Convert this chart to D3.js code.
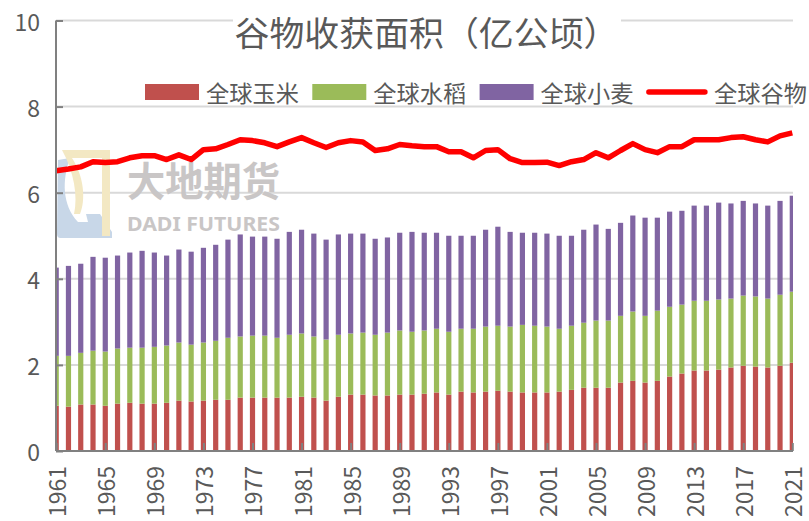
<!DOCTYPE html>
<html>
<head>
<meta charset="utf-8">
<script src="https://cdn.jsdelivr.net/npm/d3@7"></script>
<style>
  body { margin: 0; background: #fff; }
  svg { display: block; }
</style>
</head>
<body>
<svg id="chart" width="809" height="521"></svg>
<script>
// ---------------------------------------------------------------
// Data (亿公顷)
// ---------------------------------------------------------------
const years = d3.range(1961, 2022)

const corn = [
  1.05, 1.03, 1.08, 1.08, 1.05, 1.10, 1.12, 1.10, 1.10, 1.12,
  1.17, 1.15, 1.17, 1.19, 1.19, 1.24, 1.24, 1.24, 1.24, 1.24,
  1.26, 1.24, 1.17, 1.26, 1.31, 1.31, 1.29, 1.29, 1.31, 1.31,
  1.33, 1.36, 1.31, 1.38, 1.36, 1.38, 1.40, 1.38, 1.36, 1.36,
  1.36, 1.38, 1.42, 1.47, 1.47, 1.47, 1.59, 1.63, 1.59, 1.63,
  1.73, 1.80, 1.87, 1.87, 1.89, 1.94, 1.98, 1.96, 1.94, 1.98,
  2.05
]
const rice = [
  1.16, 1.18, 1.20, 1.25, 1.26, 1.28, 1.28, 1.30, 1.32, 1.33,
  1.35, 1.32, 1.35, 1.37, 1.44, 1.42, 1.44, 1.44, 1.39, 1.46,
  1.47, 1.42, 1.42, 1.44, 1.42, 1.44, 1.41, 1.46, 1.49, 1.46,
  1.47, 1.48, 1.46, 1.46, 1.48, 1.51, 1.51, 1.51, 1.57, 1.55,
  1.53, 1.46, 1.49, 1.51, 1.56, 1.56, 1.55, 1.61, 1.55, 1.63,
  1.62, 1.60, 1.62, 1.62, 1.63, 1.60, 1.63, 1.63, 1.60, 1.65,
  1.65
]
const wheat = [
  2.05, 2.09, 2.07, 2.18, 2.18, 2.16, 2.21, 2.25, 2.19, 2.09,
  2.16, 2.16, 2.20, 2.23, 2.28, 2.37, 2.30, 2.30, 2.30, 2.39,
  2.41, 2.39, 2.32, 2.33, 2.32, 2.30, 2.23, 2.21, 2.27, 2.32,
  2.27, 2.23, 2.23, 2.16, 2.16, 2.25, 2.30, 2.20, 2.14, 2.16,
  2.16, 2.16, 2.09, 2.16, 2.23, 2.13, 2.16, 2.23, 2.28, 2.16,
  2.21, 2.18, 2.21, 2.21, 2.25, 2.21, 2.20, 2.16, 2.16, 2.18,
  2.23
]
const cereals = [
  6.51, 6.55, 6.60, 6.72, 6.70, 6.72, 6.81, 6.86, 6.86, 6.77,
  6.88, 6.77, 7.00, 7.02, 7.12, 7.23, 7.21, 7.16, 7.07, 7.18,
  7.28, 7.16, 7.05, 7.16, 7.21, 7.18, 6.98, 7.02, 7.12, 7.09,
  7.07, 7.07, 6.95, 6.95, 6.81, 6.98, 7.00, 6.79, 6.70, 6.70,
  6.71, 6.63, 6.72, 6.77, 6.93, 6.81, 6.98, 7.14, 7.00, 6.93,
  7.07, 7.07, 7.23, 7.23, 7.23, 7.28, 7.30, 7.23, 7.18, 7.32,
  7.39
]

const seriesKeys = ['corn', 'rice', 'wheat']
const seriesNames = ['全球玉米', '全球水稻', '全球小麦']
const lineName = '全球谷物'
const yTicks = [0, 2, 4, 6, 8, 10]
const xLabelYears = years.filter((y, i) => i % 4 === 0)

const COLORS = { corn: '#c0504d', rice: '#9bbb59', wheat: '#8064a2', line: '#ff0000' }
const TEXT = '#595959'
const CJK = '"Noto Sans CJK SC", "Noto Sans", sans-serif'

// ---------------------------------------------------------------
// Layout
// ---------------------------------------------------------------
const X0 = 56, X1 = 793, Y0 = 451, Y1 = 20.5
const BAR_W = 5.2

const x = d3.scalePoint().domain(years).range([56.2, 792.3])
const y = d3.scaleLinear().domain([0, 10]).range([Y0, Y1])

const rows = years.map((yr, i) => ({ year: yr, corn: corn[i], rice: rice[i], wheat: wheat[i] }))
const stacked = d3.stack().keys(seriesKeys)(rows)

const svg = d3.select('#chart')

svg.append('defs').append('clipPath').attr('id', 'plot')
  .append('rect').attr('x', X0).attr('y', 0).attr('width', X1 - X0).attr('height', Y0)

// Gridlines
svg.append('g')
  .selectAll('line')
  .data(yTicks.filter(d => d > 0))
  .join('line')
  .attr('x1', X0).attr('x2', X1)
  .attr('y1', d => y(d)).attr('y2', d => y(d))
  .attr('stroke', '#d9d9d9')
  .attr('stroke-width', 2)

// ---------------------------------------------------------------
// Watermark (大地期货)
// ---------------------------------------------------------------
const wm = svg.append('g').attr('class', 'watermark')
// logo: blue block + yellow bracket
wm.append('path')
  .attr('d', 'M58,160 L70,158 C62,180 62,205 78,222 L88,222 L86,214 L100,214 L112,232 L112,238 L62,238 C57,238 57,236 57,232 Z')
  .attr('fill', '#c8d7e8')
wm.append('path')
  .attr('d', 'M62,150 L110,150 L110,236 L102,236 L102,158 L72,158 C84,176 86,200 80,214 L74,214 C78,196 74,172 62,150 Z')
  .attr('fill', '#f3e8c3')
wm.append('text')
  .attr('x', 127).attr('y', 196)
  .attr('textLength', 153).attr('lengthAdjust', 'spacingAndGlyphs')
  .style('font-family', CJK)
  .style('font-size', '40px')
  .style('font-weight', 'bold')
  .style('fill', '#c9c6c6')
  .text('大地期货')
wm.append('text')
  .attr('x', 127).attr('y', 231)
  .attr('textLength', 153).attr('lengthAdjust', 'spacingAndGlyphs')
  .style('font-family', '"Noto Sans", "DejaVu Sans", sans-serif')
  .style('font-size', '19px')
  .style('font-weight', 'bold')
  .style('fill', '#c9c6c6')
  .text('DADI FUTURES')

// ---------------------------------------------------------------
// Stacked bars
// ---------------------------------------------------------------
svg.append('g')
  .attr('clip-path', 'url(#plot)')
  .selectAll('g')
  .data(stacked)
  .join('g')
  .attr('fill', d => COLORS[d.key])
  .selectAll('rect')
  .data(d => d)
  .join('rect')
  .attr('x', d => x(d.data.year) - BAR_W / 2)
  .attr('width', BAR_W)
  .attr('y', d => y(d[1]))
  .attr('height', d => y(d[0]) - y(d[1]))

// Total cereals line
svg.append('path')
  .datum(cereals)
  .attr('fill', 'none')
  .attr('stroke', COLORS.line)
  .attr('stroke-width', 5.5)
  .attr('stroke-linejoin', 'round')
  .attr('d', d3.line().x((d, i) => x(years[i])).y(d => y(d)))

// ---------------------------------------------------------------
// Axes
// ---------------------------------------------------------------
const yAxis = svg.append('g')
  .attr('transform', `translate(${X0},0)`)
  .call(d3.axisRight(y).tickValues(yTicks).tickSize(7).tickFormat(''))
yAxis.select('.domain').attr('stroke', '#808080').attr('stroke-width', 2).attr('d', `M0,${Y1}V${Y0}`)
yAxis.selectAll('.tick line').attr('stroke', '#808080').attr('stroke-width', 2)

svg.append('g')
  .selectAll('text')
  .data(yTicks)
  .join('text')
  .attr('x', 40)
  .attr('y', d => y(d))
  .attr('text-anchor', 'end')
  .attr('dominant-baseline', 'central')
  .style('font-family', CJK)
  .style('font-size', '23px')
  .style('fill', TEXT)
  .text(d => d)

const xAxis = svg.append('g')
  .attr('transform', `translate(0,${Y0})`)
  .call(d3.axisTop(x).tickValues(xLabelYears).tickSize(8).tickFormat(''))
xAxis.select('.domain').attr('stroke', '#808080').attr('stroke-width', 2).attr('d', `M${X0},0H${X1}`)
xAxis.selectAll('.tick line').attr('stroke', '#808080').attr('stroke-width', 2)

svg.append('g')
  .selectAll('text')
  .data(xLabelYears)
  .join('text')
  .attr('transform', d => `translate(${x(d)},466) rotate(-90)`)
  .attr('text-anchor', 'end')
  .attr('dominant-baseline', 'central')
  .style('font-family', CJK)
  .style('font-size', '23px')
  .style('fill', TEXT)
  .text(d => d)

// ---------------------------------------------------------------
// Title
// ---------------------------------------------------------------
svg.append('rect')
  .attr('x', 233).attr('y', 13).attr('width', 388).attr('height', 42)
  .attr('fill', '#fff')
svg.append('text')
  .attr('x', 426.5)
  .attr('y', 46)
  .attr('text-anchor', 'middle')
  .attr('textLength', 384).attr('lengthAdjust', 'spacingAndGlyphs')
  .style('font-family', CJK)
  .style('font-size', '34px')
  .style('fill', TEXT)
  .text('谷物收获面积（亿公顷）')

// ---------------------------------------------------------------
// Legend
// ---------------------------------------------------------------
const legendItems = seriesKeys.map((k, i) => ({ key: k, name: seriesNames[i], type: 'rect' }))
  .concat([{ key: 'line', name: lineName, type: 'line' }])

const legend = svg.append('g')
  .selectAll('g')
  .data(legendItems)
  .join('g')
  .attr('transform', (d, i) => `translate(${145 + i * 167.3},92)`)

legend.filter(d => d.type === 'rect').append('rect')
  .attr('x', 0).attr('y', -8).attr('width', 54).attr('height', 16)
  .attr('fill', d => COLORS[d.key])
legend.filter(d => d.type === 'line').append('line')
  .attr('x1', 2).attr('x2', 58).attr('y1', 0).attr('y2', 0)
  .attr('stroke', COLORS.line).attr('stroke-width', 5.5).attr('stroke-linecap', 'round')
legend.append('text')
  .attr('x', d => d.type === 'line' ? 67 : 61)
  .attr('y', 0)
  .attr('dominant-baseline', 'central')
  .attr('textLength', 93).attr('lengthAdjust', 'spacingAndGlyphs')
  .style('font-family', CJK)
  .style('font-size', '23px')
  .style('fill', TEXT)
  .text(d => d.name)
</script>
</body>
</html>
